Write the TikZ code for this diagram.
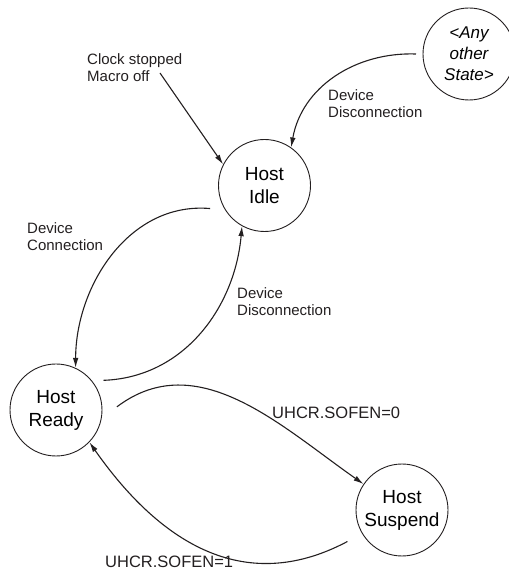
\documentclass[tikz,border=0pt]{standalone}
\usepackage{fontspec}
\setmainfont{Liberation Sans}
\usetikzlibrary{arrows.meta,positioning}
\definecolor{cLine}{HTML}{231F20}
\tikzset{
  st/.style   ={circle,draw=cLine,line width=0.9pt,minimum size=92pt,inner sep=0pt,
                align=center,font=\fontsize{19}{23}\selectfont},
  lbl/.style  ={align=left,inner sep=0pt,anchor=north west,text=cLine,
                font=\fontsize{15}{17.5}\selectfont},
  cond/.style ={lbl,font=\fontsize{16.5}{19}\selectfont},
  sig/.style  ={-{Latex[length=10pt,width=5.5pt]},draw=cLine,line width=1.1pt},
}

\begin{document}
\begin{tikzpicture}[x=1pt,y=1pt]
\useasboundingbox (0,0) rectangle (509,571);

% ---- states -------------------------------------------------------------
\node[st] (idle)  at (264.5,385.5) {Host\\Idle};
\node[st,font=\fontsize{17}{21}\selectfont\itshape] (any) at (469,517) {<Any\\other\\State>};
\node[st] (ready) at (56,161)  {Host\\Ready};
\node[st] (susp)  at (402,61)  {Host\\Suspend};
\coordinate (clk) at (160,498);

% ---- transitions --------------------------------------------------------
\draw[sig] (clk) -- (idle.153);
\draw[sig] ([shift={(180:53)}]any.center) to[out=178,in=80] (idle.55);
\draw[sig] ([shift={(203:59)}]idle.center) to[out=175,in=90] (ready.65);
\draw[sig] ([shift={(32:56)}]ready.center) to[out=2,in=265] (idle.241);
\draw[sig] ([shift={(3:61)}]ready.center) to[out=37,in=145] (susp.146);
\draw[sig] ([shift={(210:63)}]susp.center) to[out=208,in=-55,looseness=1.1] (ready.316);

% ---- labels -------------------------------------------------------------
\node[lbl]  (lclk)  at (87,518)  {Clock stopped\\Macro off};
\node[lbl]  (lany)  at (328,482) {Device\\Disconnection};
\node[lbl]  (lcon)  at (27,349)  {Device\\Connection};
\node[lbl]  (ldis)  at (237,284) {Device\\Disconnection};
\node[cond] (lsof0) at (272,164) {UHCR.SOFEN=0};
\node[cond] (lsof1) at (105,15)  {UHCR.SOFEN=1};
\end{tikzpicture}
\end{document}
